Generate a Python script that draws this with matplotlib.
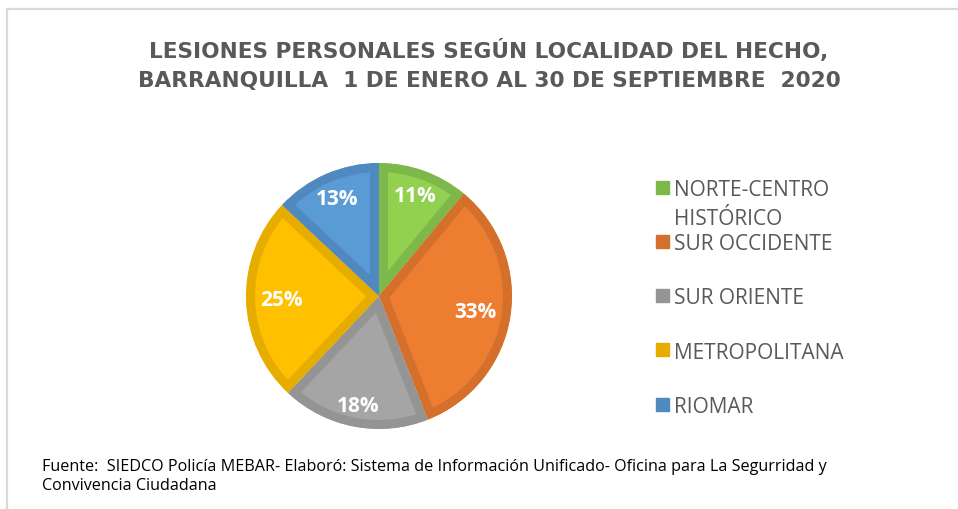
import numpy as np
import matplotlib.pyplot as plt
from matplotlib.lines import Line2D
from matplotlib.patches import Rectangle

plt.rcParams['font.family'] = ['Open Sans', 'DejaVu Sans']

titulo = 'LESIONES PERSONALES SEGÚN LOCALIDAD DEL HECHO,\nBARRANQUILLA  1 DE ENERO AL 30 DE SEPTIEMBRE  2020'
fuente = ('Fuente:  SIEDCO Policía MEBAR- Elaboró: Sistema de Información Unificado- Oficina para La Segurridad y\n'
          'Convivencia Ciudadana')

localidades = ['NORTE-CENTRO\nHISTÓRICO', 'SUR OCCIDENTE', 'SUR ORIENTE', 'METROPOLITANA', 'RIOMAR']
porcentajes = [11, 33, 18, 25, 13]
colores = ['#92D050', '#ED7D31', '#A5A5A5', '#FFC000', '#5B9BD5']
bordes = ['#7DB84A', '#D5702C', '#949494', '#E6AD00', '#5089C0']
dist_etiqueta = [0.80, 0.73, 0.835, 0.73, 0.80]

W, H = 958, 510
fig = plt.figure(figsize=(W / 100, H / 100), dpi=100)

# marco gris (solo arriba e izquierda, como en la captura)
fig.add_artist(Line2D([7 / W, 1], [1 - 10 / H, 1 - 10 / H], color='#D9D9D9', lw=1.6))
fig.add_artist(Line2D([7 / W, 7 / W], [0, 1 - 10 / H], color='#D9D9D9', lw=1.6))

fig.text(489 / W, 1 - 65 / H, titulo, ha='center', va='center', fontsize=15.6,
         fontweight='bold', color='#595959', linespacing=1.62,
         family=['DejaVu Sans'])

cx, cy, r = 379, 297, 133
ax = fig.add_axes([(cx - r) / W, 1 - (cy + r) / H, 2 * r / W, 2 * r / H])
wedges, _ = ax.pie(porcentajes, colors=colores, startangle=90, counterclock=False,
                   radius=1, wedgeprops=dict(linewidth=13, joinstyle='miter'))
for w, b in zip(wedges, bordes):
    w.set_edgecolor(b)
    w.set_clip_path(w)
    w.set_clip_on(True)
for w, p, d in zip(wedges, porcentajes, dist_etiqueta):
    ang = np.deg2rad((w.theta1 + w.theta2) / 2)
    ax.text(d * np.cos(ang), d * np.sin(ang), f'{p}%', ha='center', va='center',
            fontsize=15, fontweight='bold', color='white')
ax.set_xlim(-1, 1)
ax.set_ylim(-1, 1)
ax.axis('off')

# leyenda
y0, paso = 188, 54.25
for i, (nombre, b) in enumerate(zip(localidades, bordes)):
    y = y0 + i * paso
    fig.add_artist(Rectangle((656 / W, 1 - (y + 6.5) / H), 13 / W, 13 / H,
                             transform=fig.transFigure, color=b))
    for j, linea in enumerate(nombre.split('\n')):
        fig.text(674 / W, 1 - (y + j * 29) / H, linea, ha='left', va='center_baseline',
                 fontsize=15, color='#595959')

fig.text(42 / W, 1 - 477 / H, fuente, ha='left', va='center', fontsize=11.6,
         color='black', linespacing=1.25)

fig.savefig('out.png', dpi=100)
